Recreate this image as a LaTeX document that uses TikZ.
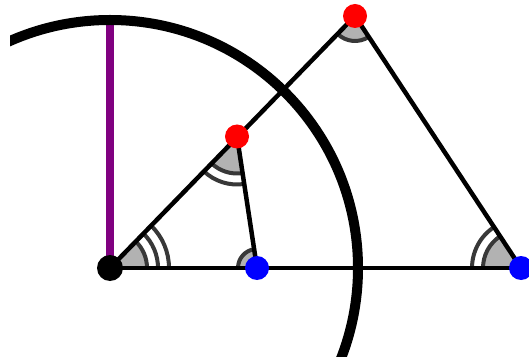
\documentclass[tikz,border=0pt]{standalone}
\definecolor{mypurple}{RGB}{128,0,128}
\tikzset{
  seg/.style={line width=4.5pt},
  markarc/.style={line width=4pt, draw=black!78},
  markfill/.style={fill=black!30},
  dot/.style={circle, fill=#1, inner sep=0pt, minimum size=23pt},
}
\begin{document}
\begin{tikzpicture}[x=1pt,y=1pt]
\useasboundingbox (0,0) rectangle (529,356);
\coordinate (O) at (110,88);
\coordinate (B1) at (257,88);
\coordinate (R1) at (237,219.5);
\coordinate (R2) at (355,340);
\coordinate (B2) at (521,88);
\coordinate (T) at (110,336);
% purple segment and circle
\draw[mypurple, line width=8.5pt] (O) -- (T);
\begin{scope}
\clip (10,-20) rectangle (560,380);
\draw[line width=10pt] (O) circle[radius=248];
\end{scope}
% angle marks
% at O (triple)
\fill[markfill] (O) -- ++(0:37) arc[start angle=0, end angle=46, radius=37] -- cycle;
\foreach \r in {37,48,59} \draw[markarc] (O) ++(0:\r) arc[start angle=0, end angle=46, radius=\r];
% at R1 (double)
\fill[markfill] (R1) -- ++(226:37) arc[start angle=226, end angle=278.6, radius=37] -- cycle;
\foreach \r in {37,48} \draw[markarc] (R1) ++(226:\r) arc[start angle=226, end angle=278.6, radius=\r];
% at B2 (double)
\fill[markfill] (B2) -- ++(123.4:38) arc[start angle=123.4, end angle=180, radius=38] -- cycle;
\foreach \r in {38,49} \draw[markarc] (B2) ++(123.4:\r) arc[start angle=123.4, end angle=180, radius=\r];
% at B1 (single)
\fill[markfill] (B1) -- ++(98.6:19) arc[start angle=98.6, end angle=180, radius=19] -- cycle;
\draw[markarc] (B1) ++(98.6:19) arc[start angle=98.6, end angle=180, radius=19];
% at R2 (single)
\fill[markfill] (R2) -- ++(225.8:25) arc[start angle=225.8, end angle=303.4, radius=25] -- cycle;
\draw[markarc] (R2) ++(225.8:25) arc[start angle=225.8, end angle=303.4, radius=25];
% triangle lines
\draw[seg] (O) -- (B2);
\draw[seg] (O) -- (R2);
\draw[seg] (R1) -- (B1);
\draw[seg] (R2) -- (B2);
% dots
\node[dot=black, minimum size=26pt] (dO) at (O) {};
\node[dot=blue, minimum size=24pt] (dB1) at (B1) {};
\node[dot=blue, minimum size=24pt] (dB2) at (B2) {};
\node[dot=red, minimum size=24pt] (dR1) at (R1) {};
\node[dot=red, minimum size=24pt] (dR2) at (R2) {};
\end{tikzpicture}
\end{document}
